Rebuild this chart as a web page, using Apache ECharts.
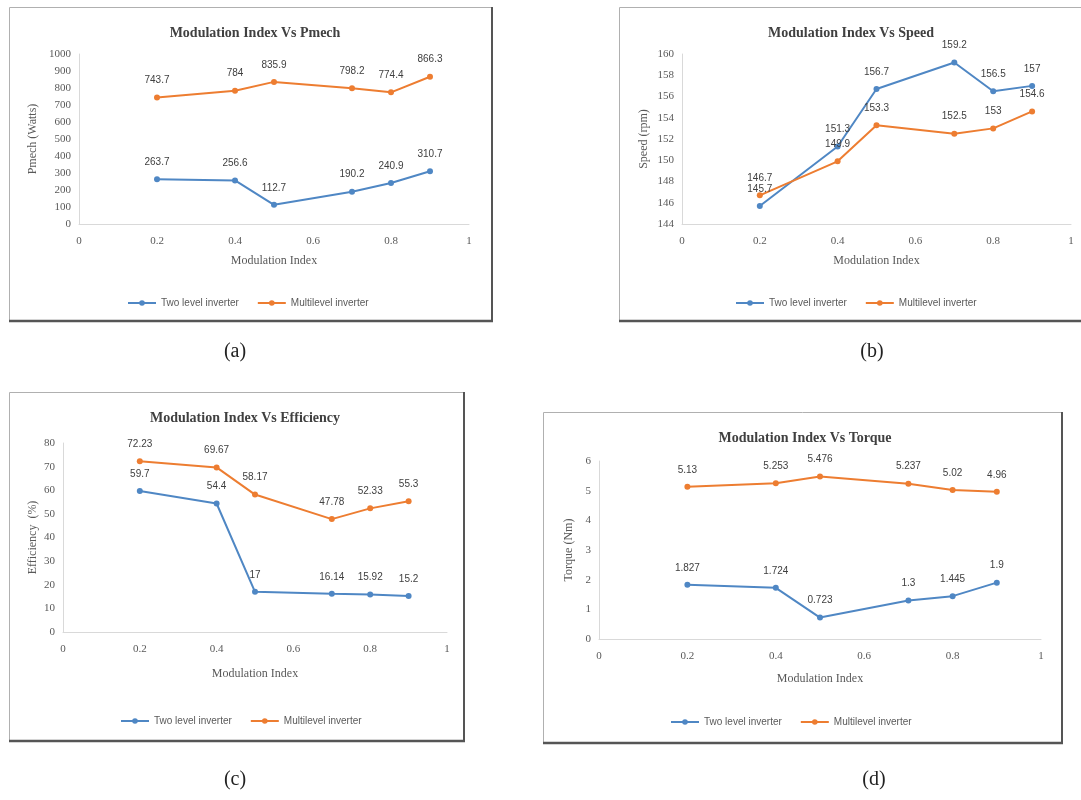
<!DOCTYPE html>
<html>
<head>
<meta charset="utf-8">
<title>Modulation Index comparison</title>
<script src="https://cdn.jsdelivr.net/npm/echarts@6/dist/echarts.min.js"></script>
<style>
  html, body { margin: 0; padding: 0; background: #ffffff; }
  #chart { width: 1081px; height: 800px; }
</style>
</head>
<body>
<div id="chart"></div>
<script>
// Modulation index values shared by all four panels
const modulationIndex = [0.2, 0.4, 0.5, 0.7, 0.8, 0.9];

// (a) Mechanical power, W
const pmechTwoLevel   = [263.7, 256.6, 112.7, 190.2, 240.9, 310.7];
const pmechMultilevel = [743.7, 784, 835.9, 798.2, 774.4, 866.3];

// (b) Speed, rpm
const speedTwoLevel   = [145.7, 151.3, 156.7, 159.2, 156.5, 157];
const speedMultilevel = [146.7, 149.9, 153.3, 152.5, 153, 154.6];

// (c) Efficiency, %
const effTwoLevel   = [59.7, 54.4, 17, 16.14, 15.92, 15.2];
const effMultilevel = [72.23, 69.67, 58.17, 47.78, 52.33, 55.3];

// (d) Torque, Nm
const torqueTwoLevel   = [1.827, 1.724, 0.723, 1.3, 1.445, 1.9];
const torqueMultilevel = [5.13, 5.253, 5.476, 5.237, 5.02, 4.96];

const seriesNames = ['Two level inverter', 'Multilevel inverter'];
const panelTitles = [
  'Modulation Index Vs Pmech',
  'Modulation Index Vs Speed',
  'Modulation Index Vs Efficiency',
  'Modulation Index Vs Torque'
];
const yAxisNames = ['Pmech (Watts)', 'Speed (rpm)', 'Efficiency  (%)', 'Torque (Nm)'];
const xAxisName = 'Modulation Index';
const panelTags = ['(a)', '(b)', '(c)', '(d)'];
const yRanges = [[0, 1000, 100], [144, 160, 2], [0, 80, 10], [0, 6, 1]];

const panelData = [
  [pmechTwoLevel, pmechMultilevel],
  [speedTwoLevel, speedMultilevel],
  [effTwoLevel, effMultilevel],
  [torqueTwoLevel, torqueMultilevel]
];

// Layout of each panel (pixels)
const layout = [
  { box: [9, 7, 482, 313],   grid: [79, 54, 390, 170],  title: [250, 21],  legend: [122, 293], yGap: 40, xGap: 31, tag: [235, 352] },
  { box: [619, 7, 470, 313], grid: [682, 54, 389, 170], title: [846, 21],  legend: [730, 293], yGap: 32, xGap: 31, tag: [872, 352] },
  { box: [9, 392, 454, 348], grid: [63, 443, 384, 189], title: [240, 406], legend: [115, 711], yGap: 24, xGap: 36, tag: [235, 780] },
  { box: [543, 412, 518, 330], grid: [599, 461, 442, 178], title: [800, 426], legend: [665, 712], yGap: 24, xGap: 34, tag: [874, 780] }
];

const colors = ['#4f87c4', '#ED7D31'];
const serif = '"Liberation Serif", "DejaVu Serif", serif';
const sans = '"Liberation Sans", Arial, sans-serif';
const plainNumber = (v) => String(v);

const grids = [], xAxes = [], yAxes = [], series = [], titles = [], legends = [], graphics = [];

layout.forEach((p, k) => {
  const [gl, gt, gw, gh] = p.grid;
  grids.push({ left: gl, top: gt, width: gw, height: gh, containLabel: false });

  xAxes.push({
    type: 'value', gridIndex: k, min: 0, max: 1, interval: 0.2,
    name: xAxisName, nameLocation: 'middle', nameGap: p.xGap,
    nameTextStyle: { fontFamily: serif, fontSize: 12, color: '#595959' },
    axisLine: { show: true, lineStyle: { color: '#d9d9d9', width: 1 } },
    axisTick: { show: false },
    splitLine: { show: false },
    axisLabel: { fontFamily: serif, fontSize: 11, color: '#595959', margin: 12, formatter: plainNumber }
  });

  const [ymin, ymax, yint] = yRanges[k];
  yAxes.push({
    type: 'value', gridIndex: k, min: ymin, max: ymax, interval: yint,
    name: yAxisNames[k], nameLocation: 'middle', nameGap: p.yGap, nameRotate: 90,
    nameTextStyle: { fontFamily: serif, fontSize: 12, color: '#595959' },
    axisLine: { show: true, lineStyle: { color: '#d9d9d9', width: 1 } },
    axisTick: { show: false },
    splitLine: { show: false },
    axisLabel: { fontFamily: serif, fontSize: 11, color: '#595959', margin: 8, formatter: plainNumber }
  });

  panelData[k].forEach((vals, s) => {
    series.push({
      name: seriesNames[s],
      type: 'line',
      xAxisIndex: k, yAxisIndex: k,
      data: modulationIndex.map((m, i) => [m, vals[i]]),
      symbol: 'circle', symbolSize: 6,
      lineStyle: { width: 2, color: colors[s] },
      itemStyle: { color: colors[s] },
      label: {
        show: true, position: 'top', distance: 9,
        fontFamily: sans, fontSize: 10, color: '#404040',
        formatter: (d) => String(d.value[1])
      },
      animation: false
    });
  });

  titles.push({
    text: panelTitles[k], left: p.title[0], top: p.title[1], textAlign: 'center',
    textStyle: { fontFamily: serif, fontSize: 14, fontWeight: 'bold', color: '#404040' }
  });

  legends.push({
    data: seriesNames, left: p.legend[0], top: p.legend[1], orient: 'horizontal',
    itemWidth: 28, itemHeight: 7, itemGap: 18,
    textStyle: { fontFamily: sans, fontSize: 10, color: '#595959' }
  });

  // Panel frame: light outline with a darker bottom/right edge
  const [bx, by, bw, bh] = p.box;
  graphics.push({
    type: 'rect', shape: { x: bx + 0.5, y: by + 0.5, width: bw, height: bh },
    style: { fill: null, stroke: '#b0b0b0', lineWidth: 1 }, z: -1
  });
  graphics.push({
    type: 'line', shape: { x1: bx, y1: by + bh + 1, x2: bx + bw + 2, y2: by + bh + 1 },
    style: { stroke: '#555555', lineWidth: 2.5 }
  });
  graphics.push({
    type: 'line', shape: { x1: bx + bw + 1, y1: by, x2: bx + bw + 1, y2: by + bh + 2 },
    style: { stroke: '#555555', lineWidth: 2 }
  });
  graphics.push({
    type: 'text', x: p.tag[0], y: p.tag[1],
    style: { text: panelTags[k], font: '20px ' + serif, fill: '#222222', align: 'center', verticalAlign: 'middle' }
  });
});

const chart = echarts.init(document.getElementById('chart'), null, { renderer: 'canvas' });
chart.setOption({
  backgroundColor: '#ffffff',
  animation: false,
  title: titles,
  legend: legends,
  grid: grids,
  xAxis: xAxes,
  yAxis: yAxes,
  series: series,
  graphic: graphics
});
</script>
</body>
</html>
